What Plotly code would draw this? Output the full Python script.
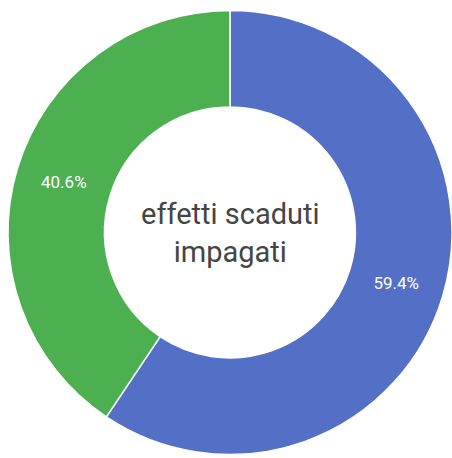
import plotly.graph_objects as go

# Share of overdue bills: unpaid vs. other
categories = ["Impagati", "Altri"]
shares = [59.4, 40.6]
colors = ["#5470c6", "#4caf50"]
center_title = "effetti scaduti<br>impagati"

fig = go.Figure(
    go.Pie(
        labels=categories,
        values=shares,
        hole=0.565,
        sort=False,
        direction="clockwise",
        rotation=0,
        marker=dict(colors=colors, line=dict(color="#ffffff", width=1.5)),
        textinfo="percent",
        texttemplate="%{percent:.1%}",
        textposition="inside",
        insidetextorientation="horizontal",
        insidetextfont=dict(family="Roboto", size=17, color="#ffffff"),
        showlegend=False,
        hoverinfo="label+percent",
    )
)

fig.add_annotation(
    text=center_title,
    x=0.5, y=0.5, xref="paper", yref="paper",
    showarrow=False,
    font=dict(family="Roboto", size=29, color="#454545"),
)

fig.update_layout(
    width=452,
    height=458,
    margin=dict(l=8, r=0, t=10, b=3),
    paper_bgcolor="#ffffff",
    plot_bgcolor="#ffffff",
)

fig.write_html("out.html")
